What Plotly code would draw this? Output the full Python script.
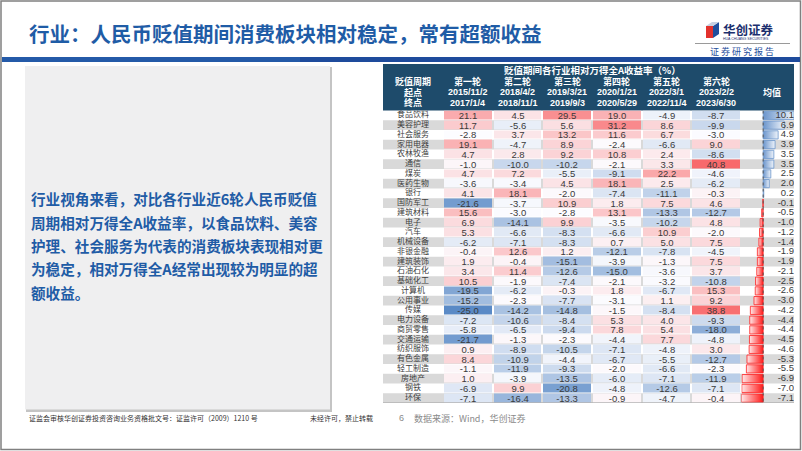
import numpy as np
import plotly.graph_objects as go

# ---------------- data ----------------
industries = ["食品饮料", "美容护理", "社会服务", "家用电器", "农林牧渔", "通信", "煤炭", "医药生物",
              "银行", "国防军工", "建筑材料", "电子", "汽车", "机械设备", "非银金融", "建筑装饰",
              "石油石化", "基础化工", "计算机", "公用事业", "传媒", "电力设备", "商贸零售", "交通运输",
              "纺织服饰", "有色金属", "轻工制造", "房地产", "钢铁", "环保"]
rounds = ["第一轮", "第二轮", "第三轮", "第四轮", "第五轮", "第六轮"]
start_dates = ["2015/11/2", "2018/4/2", "2019/3/21", "2020/1/21", "2022/3/1", "2023/2/2"]
end_dates = ["2017/1/4", "2018/11/1", "2019/9/3", "2020/5/29", "2022/11/4", "2023/6/30"]

r1 = [21.1, 11.7, -2.8, 19.1, 4.7, -1.0, 4.7, -3.6, 4.1, -21.6, 15.6, 6.9, 5.3, -6.2, -0.4,
      1.9, 3.4, 10.5, -19.5, -15.2, -25.0, -7.2, -5.8, -21.7, 0.9, 8.4, -1.1, 1.0, -6.9, -7.1]
r2 = [4.5, -5.6, 3.7, -4.7, 2.8, -10.0, 7.2, -3.4, 18.1, -3.7, -3.0, -14.1, -6.6, -7.1, 12.6,
      -0.4, 11.4, -1.9, -6.2, -2.3, -14.2, -10.6, -6.5, -1.3, -8.9, -10.9, -11.9, -3.9, 9.9, -16.4]
r3 = [29.5, 5.6, 13.2, 8.9, 9.2, -10.2, -5.5, 4.5, -2.0, 10.9, -2.8, 9.9, -8.3, -8.3, 1.2,
      -15.1, -12.6, -7.4, -0.3, -7.7, -14.8, -8.4, -9.4, -2.3, -10.5, -4.4, -9.3, -13.5, -20.8, -13.3]
r4 = [19.0, 31.2, 11.6, -2.4, 10.8, -2.1, -9.1, 18.1, -7.4, 1.8, 13.1, -3.5, -6.6, 0.7, -12.1,
      -3.9, -15.0, -2.1, 1.8, -3.1, -1.5, 5.3, 7.8, -4.4, -7.1, -6.7, -2.0, -6.0, -4.8, -0.9]
r5 = [-4.9, 8.6, 6.7, -6.6, 2.4, 3.3, 22.2, 2.5, -11.1, 7.5, -13.3, -10.2, 10.9, 5.0, -7.8,
      -1.3, -3.6, -3.2, -6.7, 1.1, -8.4, 4.0, 5.4, 7.7, -4.8, -5.5, -6.6, -7.1, -12.6, -4.7]
r6 = [-8.7, -9.9, -3.0, 9.0, -8.6, 40.8, -4.6, -6.2, -0.3, 4.6, -12.7, 4.8, -2.0, 7.5, -4.5,
      7.5, 3.7, -10.8, 15.3, 9.2, 38.8, -9.3, -18.0, -4.8, 3.0, -12.7, -2.3, -11.9, -7.1, -0.4]
mean_vals = [10.1, 6.9, 4.9, 3.9, 3.5, 3.5, 2.5, 2.0, 0.2, -0.1, -0.5, -1.0, -1.2, -1.4, -1.9,
             -1.9, -2.1, -2.5, -2.6, -3.0, -4.2, -4.4, -4.4, -4.5, -4.6, -5.3, -5.5, -6.9, -7.0, -7.1]

# ---------------- layout helpers ----------------
W, H = 802, 451
def X(px): return px / W
def Y(py): return 1 - py / H

BLUE_TXT = "#1f5ca6"
CJK = "Noto Sans CJK SC"
NUM = "Liberation Sans"

T_LEFT, LBL_R, DATA_R, T_RIGHT = 383, 443, 741, 794
HDR_TOP, HDR_BOT, T_BOT = 64, 110.5, 403

n = len(industries)
rows = list(range(n))
z = np.array([r1, r2, r3, r4, r5, r6]).T
zmin, zmax = float(z.min()), float(z.max())
zmed = float(np.percentile(z, 50))
pmid = (zmed - zmin) / (zmax - zmin)
colorscale = [[0, "#5A8AC6"], [pmid, "#FCFCFF"], [1, "#F8696B"]]

fig = go.Figure()

# heatmap of round returns
fig.add_trace(go.Heatmap(
    z=z, x=list(range(len(rounds))), y=rows,
    zmin=zmin, zmax=zmax, colorscale=colorscale, showscale=False,
    xgap=2, ygap=1,
    texttemplate="%{z:.1f}", textfont=dict(family=NUM, size=9.5, color="#3a3a3a"),
    hoverinfo="skip", xaxis="x", yaxis="y"))

# row labels
fig.add_trace(go.Scatter(
    x=[0.5] * n, y=rows, text=industries, mode="text",
    textfont=dict(family=CJK, size=8, color="#404040"),
    hoverinfo="skip", showlegend=False, xaxis="x3", yaxis="y"))

# mean data bars (Excel-like gradient)
mn, mx = min(mean_vals), max(mean_vals)
hh = 0.42
for i, v in enumerate(mean_vals):
    if v >= 0:
        cs = [[0, "#6b95cc"], [1, "#eef3fa"]]
        lc = "#6b95cc"
    else:
        cs = [[0, "#ffe8e8"], [1, "#ff1a1a"]]
        lc = "#ff2020"
    fig.add_trace(go.Scatter(
        x=[0, v, v, 0, 0], y=[i - hh, i - hh, i + hh, i + hh, i - hh],
        mode="lines", fill="toself",
        fillgradient=dict(type="horizontal", colorscale=cs),
        line=dict(color=lc, width=0.8),
        hoverinfo="skip", showlegend=False, xaxis="x2", yaxis="y"))

fig.add_trace(go.Scatter(
    x=[mx] * n, y=rows, text=[f"{v:.1f}" for v in mean_vals], mode="text",
    textposition="middle left",
    textfont=dict(family=NUM, size=9.5, color="#3a3a3a"),
    hoverinfo="skip", showlegend=False, xaxis="x2", yaxis="y"))

shapes = []
# slide frame
shapes.append(dict(type="rect", xref="paper", yref="paper", x0=X(1), x1=X(800.5), y0=Y(449.5), y1=Y(1),
                   line=dict(color="#808080", width=1.5), layer="below"))
# blue band
shapes.append(dict(type="rect", xref="paper", yref="paper", x0=X(2), x1=X(800), y0=Y(62), y1=Y(57),
                   fillcolor="#1e4b9c", line=dict(width=0), layer="below"))
shapes.append(dict(type="rect", xref="paper", yref="paper", x0=X(2), x1=X(300), y0=Y(62), y1=Y(57),
                   fillcolor="#245aa8", line=dict(width=0), layer="below"))
# gray line under logo
shapes.append(dict(type="line", xref="paper", yref="paper", x0=X(695), x1=X(790), y0=Y(43.5), y1=Y(43.5),
                   line=dict(color="#9a9a9a", width=1), layer="below"))
# logo cube
def path(pts):
    return "M" + " L".join(f"{X(a)},{Y(b)}" for a, b in pts) + " Z"
shapes.append(dict(type="path", xref="paper", yref="paper", path=path([(706, 26), (713, 26), (713, 38), (706, 38)]),
                   fillcolor="#e3322d", line=dict(width=0)))
shapes.append(dict(type="path", xref="paper", yref="paper", path=path([(713, 26), (719, 22), (719, 34), (713, 38)]),
                   fillcolor="#1f4e9c", line=dict(width=0)))
shapes.append(dict(type="path", xref="paper", yref="paper", path=path([(706, 26), (712, 22), (719, 22), (713, 26)]),
                   fillcolor="#c7cfe0", line=dict(width=0)))
# left gray box with shadow
shapes.append(dict(type="rect", xref="paper", yref="paper", x0=X(26), x1=X(332), y0=Y(412), y1=Y(67),
                   fillcolor="#c4c4c4", line=dict(width=0), layer="below"))
shapes.append(dict(type="rect", xref="paper", yref="paper", x0=X(25), x1=X(330), y0=Y(409.5), y1=Y(66),
                   fillcolor="#efeff0", line=dict(width=0), layer="below"))
# table header
shapes.append(dict(type="rect", xref="paper", yref="paper", x0=X(T_LEFT), x1=X(T_RIGHT), y0=Y(HDR_BOT), y1=Y(HDR_TOP),
                   fillcolor="#1e4b6b", line=dict(width=0), layer="below"))
# alternating row bands
for i in rows:
    if i % 2 == 1:
        shapes.append(dict(type="rect", xref="paper", yref="y", x0=X(T_LEFT), x1=X(T_RIGHT),
                           y0=i - 0.5, y1=i + 0.5, fillcolor="#d9d9d9", line=dict(width=0), layer="below"))
# table bottom line
shapes.append(dict(type="line", xref="paper", yref="y", x0=X(T_LEFT), x1=X(T_RIGHT), y0=n - 0.5, y1=n - 0.5,
                   line=dict(color="#a0a0a0", width=1)))
# data bar axis
shapes.append(dict(type="line", xref="x2", yref="y", x0=0, x1=0, y0=-0.5, y1=n - 0.5,
                   line=dict(color="#555555", width=1, dash="dot")))

ann = []
def add_text(x, y, text, size, color, family=CJK, bold=False, xanchor="center", xref="paper", yref="paper"):
    t = f"<b>{text}</b>" if bold else text
    ann.append(dict(x=x, y=y, xref=xref, yref=yref, text=t, showarrow=False, xanchor=xanchor, yanchor="middle",
                    font=dict(family=family, size=size, color=color)))

# title
add_text(X(27), Y(33), "行业：人民币贬值期间消费板块相对稳定，常有超额收益", 20.5, BLUE_TXT, bold=True, xanchor="left")
# logo text
add_text(X(721), Y(29), "华创证券", 12.5, "#1b2f6e", bold=True, xanchor="left")
add_text(X(721), Y(39), "HUA CHUANG SECURITIES", 3.5, "#1b2f6e", family=NUM, xanchor="left")
add_text(X(742), Y(52), "证 券 研 究 报 告", 9, "#1f4e9c")
# left box text
lines = ["行业视角来看，对比各行业近6轮人民币贬值",
         "周期相对万得全A收益率，以食品饮料、美容",
         "护理、社会服务为代表的消费板块表现相对更",
         "为稳定，相对万得全A经常出现较为明显的超",
         "额收益。"]
for k, ln in enumerate(lines):
    add_text(X(29), Y(199 + k * 23.3), ln, 14.6, BLUE_TXT, bold=True, xanchor="left")

# table header texts
WH = "#ffffff"
hy = [70, 81.5, 92, 102.5]
add_text(2.5, Y(hy[0]), "贬值期间各行业相对万得全A收益率（%）", 9.5, WH, bold=True, xref="x")
add_text(0.5, Y(hy[1]), "贬值周期", 9, WH, bold=True, xref="x3")
add_text(0.5, Y(hy[2]), "起点", 9, WH, bold=True, xref="x3")
add_text(0.5, Y(hy[3]), "终点", 9, WH, bold=True, xref="x3")
for k in range(len(rounds)):
    add_text(k, Y(hy[1]), rounds[k], 9, WH, bold=True, xref="x")
    add_text(k, Y(hy[2]), start_dates[k], 9, WH, family=NUM, bold=True, xref="x")
    add_text(k, Y(hy[3]), end_dates[k], 9, WH, family=NUM, bold=True, xref="x")
add_text(X(772), Y(hy[2]), "均值", 9, WH, bold=True)

# footer
add_text(X(27), Y(418), "证监会审核华创证券投资咨询业务资格批文号：证监许可（2009）1210 号", 7, "#333333", xanchor="left")
add_text(X(308), Y(418), "未经许可，禁止转载", 7, "#333333", xanchor="left")
add_text(X(401), Y(418), "6", 9, "#8a8a8a", family=NUM)
add_text(X(412), Y(418), "数据来源：Wind，华创证券", 9, "#8a8a8a", xanchor="left")

ax_common = dict(showgrid=False, zeroline=False, showticklabels=False, ticks="", showline=False, fixedrange=True)
fig.update_layout(
    width=W, height=H, margin=dict(l=0, r=0, t=0, b=0),
    paper_bgcolor="white", plot_bgcolor="rgba(0,0,0,0)",
    showlegend=False,
    xaxis=dict(domain=[X(LBL_R), X(DATA_R)], range=[-0.5, len(rounds) - 0.5], anchor="y", **ax_common),
    xaxis2=dict(domain=[X(DATA_R + 0.5), X(T_RIGHT)], range=[mn, mx], anchor="y", **ax_common),
    xaxis3=dict(domain=[X(T_LEFT), X(LBL_R)], range=[0, 1], anchor="y", **ax_common),
    yaxis=dict(domain=[Y(T_BOT), Y(HDR_BOT)], range=[n - 0.5, -0.5], anchor="x", **ax_common),
    shapes=shapes, annotations=ann,
)

fig.write_html("out.html", config={"displayModeBar": False},
               post_script="document.body.style.margin='0px';")
